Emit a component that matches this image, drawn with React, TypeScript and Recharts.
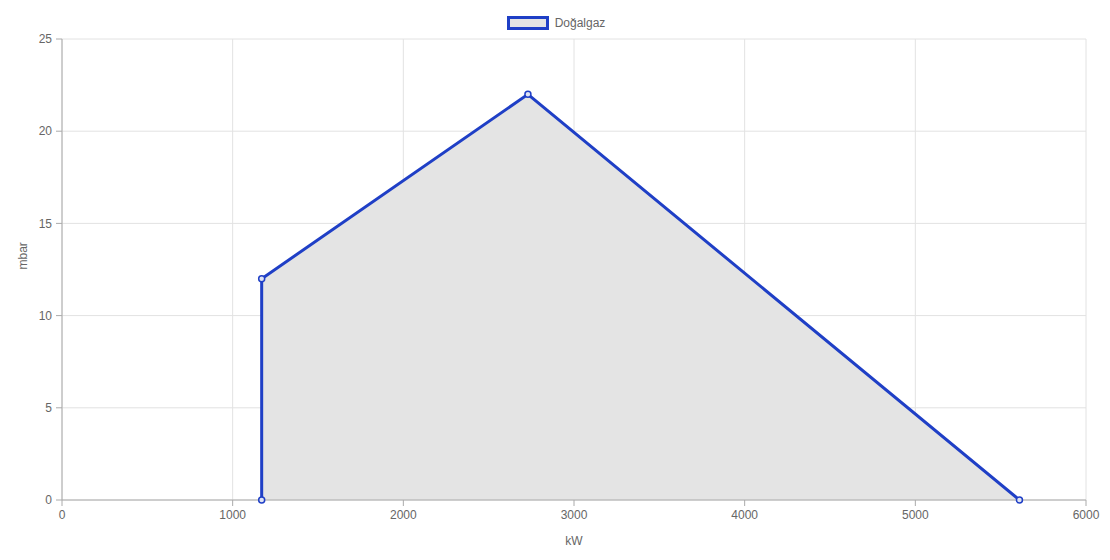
import { Area, AreaChart, CartesianGrid, Legend, XAxis, YAxis } from "recharts";

const powerKw = [1170, 1170, 2730, 5610];
const pressureMbar = [0, 12, 22, 0];
const xTicks = [0, 1000, 2000, 3000, 4000, 5000, 6000];
const yTicks = [0, 5, 10, 15, 20, 25];
const seriesName = "Doğalgaz";

const data = powerKw.map((kw, i) => ({ kw, mbar: pressureMbar[i] }));

const FONT = '"Liberation Sans", Arial, Helvetica, sans-serif';
const LINE = "#1f3fc6";

function GasLegend() {
  return (
    <div style={{ height: 29, display: "flex", justifyContent: "center", alignItems: "flex-start", fontFamily: FONT, fontSize: 12, color: "#666" }}>
      <div style={{ display: "flex", alignItems: "center", marginTop: 6, marginLeft: 26 }}>
        <span style={{ width: 36, height: 8, border: `3px solid ${LINE}`, background: "#e4e4e4", display: "inline-block", marginRight: 6 }} />
        <span>{seriesName}</span>
      </div>
    </div>
  );
}

export default function App() {
  return (
    <div style={{ position: "absolute", left: 0, top: 0, background: "#fff" }}>
      <AreaChart width={1110} height={560} data={data} margin={{ top: 10, right: 24, bottom: 0, left: 0 }}>
        <Legend verticalAlign="top" align="center" content={() => <GasLegend />} />
        <CartesianGrid stroke="#e2e2e2" />
        <XAxis
          dataKey="kw"
          type="number"
          domain={[0, 6000]}
          ticks={xTicks}
          height={60}
          stroke="#aaa"
          tickSize={6}
          tickMargin={4}
          tick={{ fill: "#666", fontSize: 12, fontFamily: FONT }}
          label={{ value: "kW", position: "insideBottom", offset: 15, fill: "#666", fontSize: 12, fontFamily: FONT }}
        />
        <YAxis
          type="number"
          domain={[0, 25]}
          ticks={yTicks}
          width={62}
          stroke="#aaa"
          tickSize={6}
          tickMargin={4}
          tick={{ fill: "#666", fontSize: 12, fontFamily: FONT }}
          label={{ value: "mbar", angle: -90, position: "insideLeft", offset: 23, fill: "#666", fontSize: 12, fontFamily: FONT }}
        />
        <Area
          type="linear"
          dataKey="mbar"
          name={seriesName}
          stroke={LINE}
          strokeWidth={3}
          fill="#e4e4e4"
          fillOpacity={1}
          dot={{ r: 3, stroke: LINE, strokeWidth: 1.5, fill: "#dfe3f3" }}
          activeDot={false}
          isAnimationActive={false}
        />
      </AreaChart>
    </div>
  );
}
